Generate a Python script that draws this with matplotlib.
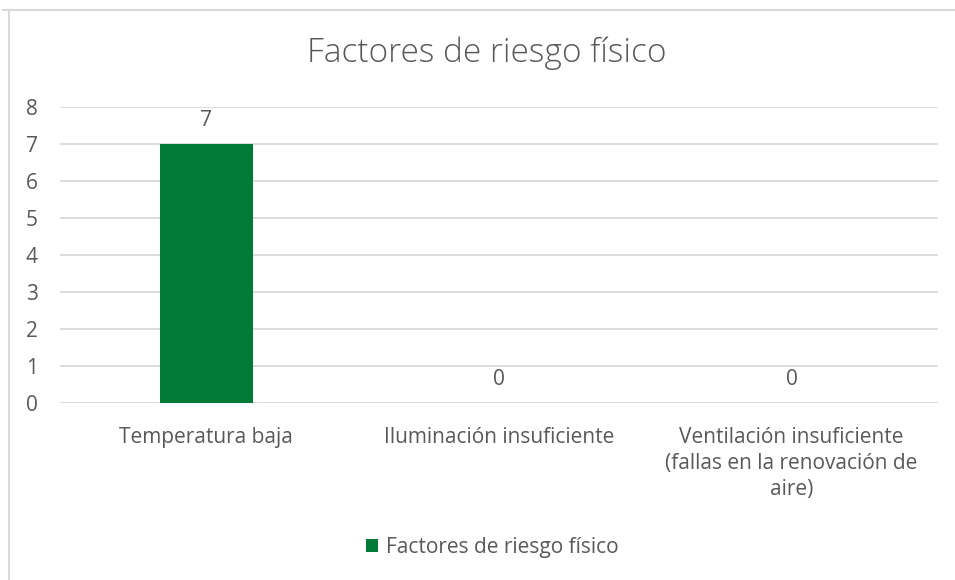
import matplotlib
matplotlib.use("Agg")
import matplotlib.pyplot as plt
from matplotlib.lines import Line2D
from matplotlib.patches import Patch

categories = [
    "Temperatura baja",
    "Iluminación insuficiente",
    "Ventilación insuficiente\n(fallas en la renovación de\naire)",
]
values = [7, 0, 0]
series_name = "Factores de riesgo físico"
title = "Factores de riesgo físico"
yticks = [0, 1, 2, 3, 4, 5, 6, 7, 8]

FONT = "Open Sans"
TEXT = "#595959"
GRID = "#d9d9d9"
BAR = "#007a37"
FS = 15

W, H = 955, 580
fig = plt.figure(figsize=(W / 100, H / 100), dpi=100)
fig.patch.set_facecolor("white")

# chart frame (top and left edges)
fig.add_artist(Line2D([3 / W, 1], [1 - 9.5 / H, 1 - 9.5 / H], transform=fig.transFigure,
                      color="#d9d9d9", lw=1.5))
fig.add_artist(Line2D([8.5 / W, 8.5 / W], [0, 1 - 9.5 / H], transform=fig.transFigure,
                      color="#d9d9d9", lw=1.5))

left, right = 60 / W, 938 / W
bottom, top = 1 - 403 / H, 1 - 107 / H
ax = fig.add_axes([left, bottom, right - left, top - bottom])

x = range(len(categories))
bars = ax.bar(x, values, width=0.317, color=BAR, zorder=3, label=series_name)
ax.set_xlim(-0.5, len(categories) - 0.5)
ax.set_ylim(0, 8)
ax.set_yticks(yticks)
ax.set_yticklabels([str(v) for v in yticks])
ax.set_xticks(list(x))
ax.set_xticklabels(categories, linespacing=1.33)

for rect, v in zip(bars, values):
    ax.annotate(str(v), (rect.get_x() + rect.get_width() / 2, v),
                xytext=(0, 17), textcoords="offset points",
                ha="center", va="center", fontsize=FS, color=TEXT, family=FONT)

ax.grid(axis="y", color=GRID, lw=1.3, zorder=0)
for s in ax.spines.values():
    s.set_visible(False)
ax.tick_params(axis="both", length=0, colors=TEXT, labelsize=FS)
ax.tick_params(axis="y", pad=16)
ax.tick_params(axis="x", pad=17)
for lab in ax.get_xticklabels() + ax.get_yticklabels():
    lab.set_family(FONT)
    lab.set_color(TEXT)
for lab in ax.get_xticklabels():
    lab.set_ha("center")
    lab.set_multialignment("center")

fig.text(487 / W, 1 - 53 / H, title, ha="center", va="center", fontsize=24,
         color=TEXT, family=FONT, fontweight="light")

leg = fig.legend(handles=[Patch(facecolor=BAR, label=series_name)],
                 loc="center", bbox_to_anchor=(492 / W, 1 - 547 / H), frameon=False,
                 handlelength=0.6, handleheight=0.6, handletextpad=0.35,
                 prop={"family": FONT, "size": FS})
for t in leg.get_texts():
    t.set_color(TEXT)

fig.savefig("out.png", dpi=100, facecolor="white")
